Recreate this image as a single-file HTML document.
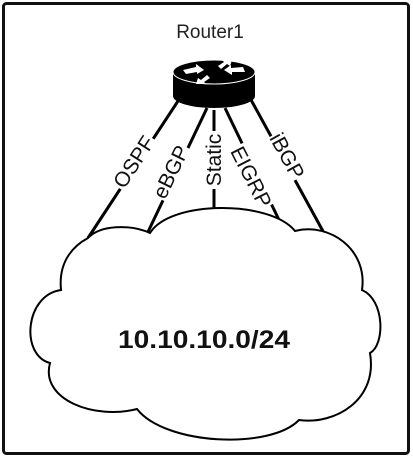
<!DOCTYPE html>
<html><head><style>
html,body{margin:0;padding:0;background:#fff;}
svg{display:block;}
text{font-family:"Liberation Sans",sans-serif;}
</style></head><body>
<svg width="413" height="458" viewBox="0 0 413 458">
<rect x="3.5" y="3.5" width="405" height="450" rx="3" fill="#fff" stroke="#111" stroke-width="3"/>
<text x="210" y="38" font-size="19" text-anchor="middle" fill="#222">Router1</text>
<g stroke="#000" stroke-width="3" fill="none">
<line x1="180" y1="98" x2="88" y2="238"/>
<line x1="207" y1="108" x2="147" y2="234"/>
<line x1="214" y1="110" x2="214" y2="208"/>
<line x1="225" y1="108" x2="280" y2="222"/>
<line x1="250" y1="98" x2="324" y2="233"/>
</g>
<g font-size="21" fill="#111" text-anchor="middle">
<g transform="translate(134,162) rotate(-57)"><rect x="-30" y="-11" width="60" height="22" fill="#fff"/><text y="7">OSPF</text></g>
<g transform="translate(171,172) rotate(-64)"><rect x="-29" y="-11" width="58" height="22" fill="#fff"/><text y="7">eBGP</text></g>
<g transform="translate(214,160) rotate(-90)"><rect x="-29" y="-11" width="58" height="22" fill="#fff"/><text y="7">Static</text></g>
<g transform="translate(251,177) rotate(63)"><rect x="-34" y="-11" width="68" height="22" fill="#fff"/><text y="7">EIGRP</text></g>
<g transform="translate(287,156) rotate(61)"><rect x="-25" y="-11" width="50" height="22" fill="#fff"/><text y="7">iBGP</text></g>
</g>
<path d="M173 72 L173 96 A41 12 0 0 0 255 96 L255 72 Z" fill="#000"/>
<ellipse cx="214" cy="72" rx="41" ry="12" fill="#000" stroke="#fff" stroke-width="1"/>
<g fill="#fff">
<polygon points="183,70 196,67 196,64 204,70 197,74 197,72 186,74"/>
<polygon points="245,72 232,72 232,75 224,70 231,65 231,68 243,67"/>
<polygon points="218,66 224,62 222,60 232,60 230,66 227,64 221,69"/>
<polygon points="210,78 204,82 206,84 196,84 198,78 201,80 207,75"/>
</g>
<path d="M88 238 C100 225 130 224 150 233 C170 200 270 200 295 231 C330 222 368 250 362 290 C385 300 385 345 370 353 C378 400 335 425 299 420 C270 450 165 445 137 409 C95 420 40 400 50 363 C20 355 25 295 61 290 C58 260 75 245 88 238 Z" fill="#fff" stroke="#000" stroke-width="2"/>
<text x="204" y="348" font-size="25" font-weight="bold" text-anchor="middle" fill="#111" textLength="172" lengthAdjust="spacingAndGlyphs">10.10.10.0/24</text>
</svg>
</body></html>
